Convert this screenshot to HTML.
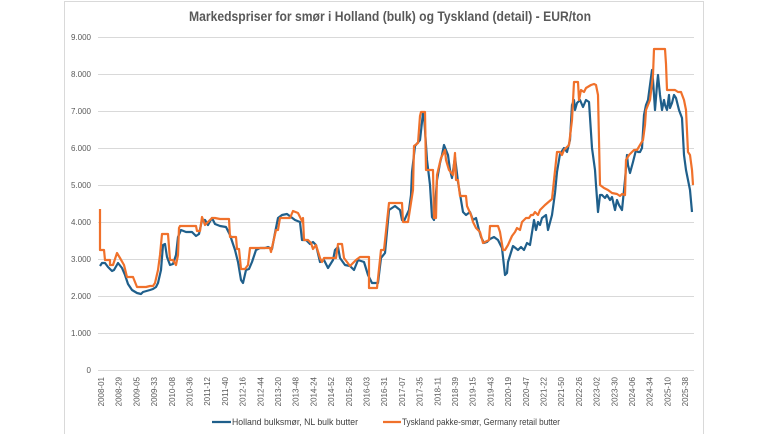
<!DOCTYPE html>
<html><head><meta charset="utf-8"><style>
body{margin:0;background:#fff;}
svg{display:block;font-family:"Liberation Sans",sans-serif;}
</style></head><body>
<svg width="776" height="434" viewBox="0 0 776 434" xmlns="http://www.w3.org/2000/svg">
<rect x="64.5" y="1.5" width="639" height="440" fill="#fff" stroke="#d9d9d9"/>
<text x="390" y="21" text-anchor="middle" font-size="13.5" font-weight="bold" fill="#595959" textLength="402" lengthAdjust="spacingAndGlyphs">Markedspriser for smør i Holland (bulk) og Tyskland (detail) - EUR/ton</text>
<g stroke="#d9d9d9" stroke-width="1">
<line x1="98" x2="694" y1="37.5" y2="37.5"/><line x1="98" x2="694" y1="74.5" y2="74.5"/>
<line x1="98" x2="694" y1="111.5" y2="111.5"/><line x1="98" x2="694" y1="148.5" y2="148.5"/>
<line x1="98" x2="694" y1="185.5" y2="185.5"/><line x1="98" x2="694" y1="222.5" y2="222.5"/>
<line x1="98" x2="694" y1="259.5" y2="259.5"/><line x1="98" x2="694" y1="296.5" y2="296.5"/>
<line x1="98" x2="694" y1="333.5" y2="333.5"/><line x1="98" x2="694" y1="370.5" y2="370.5"/>
</g>
<g font-size="8" fill="#595959" text-anchor="end">
<text x="91" y="40">9.000</text><text x="91" y="77">8.000</text><text x="91" y="114">7.000</text>
<text x="91" y="151">6.000</text><text x="91" y="188">5.000</text><text x="91" y="225">4.000</text>
<text x="91" y="262">3.000</text><text x="91" y="299">2.000</text><text x="91" y="336">1.000</text>
<text x="91" y="373">0</text>
</g>
<g font-size="8" fill="#595959" text-anchor="end">
<text transform="translate(104,377) rotate(-90)">2008-01</text>
<text transform="translate(121.7,377) rotate(-90)">2008-29</text>
<text transform="translate(139.4,377) rotate(-90)">2009-05</text>
<text transform="translate(157.1,377) rotate(-90)">2009-33</text>
<text transform="translate(174.8,377) rotate(-90)">2010-08</text>
<text transform="translate(192.5,377) rotate(-90)">2010-36</text>
<text transform="translate(210.2,377) rotate(-90)">2011-12</text>
<text transform="translate(227.9,377) rotate(-90)">2011-40</text>
<text transform="translate(245.6,377) rotate(-90)">2012-16</text>
<text transform="translate(263.3,377) rotate(-90)">2012-44</text>
<text transform="translate(281,377) rotate(-90)">2013-20</text>
<text transform="translate(298.7,377) rotate(-90)">2013-48</text>
<text transform="translate(316.4,377) rotate(-90)">2014-24</text>
<text transform="translate(334.1,377) rotate(-90)">2014-52</text>
<text transform="translate(351.8,377) rotate(-90)">2015-28</text>
<text transform="translate(369.5,377) rotate(-90)">2016-03</text>
<text transform="translate(387.2,377) rotate(-90)">2016-31</text>
<text transform="translate(404.9,377) rotate(-90)">2017-07</text>
<text transform="translate(422.6,377) rotate(-90)">2017-35</text>
<text transform="translate(440.3,377) rotate(-90)">2018-11</text>
<text transform="translate(458,377) rotate(-90)">2018-39</text>
<text transform="translate(475.7,377) rotate(-90)">2019-15</text>
<text transform="translate(493.4,377) rotate(-90)">2019-43</text>
<text transform="translate(511.1,377) rotate(-90)">2020-19</text>
<text transform="translate(528.8,377) rotate(-90)">2020-47</text>
<text transform="translate(546.5,377) rotate(-90)">2021-22</text>
<text transform="translate(564.2,377) rotate(-90)">2021-50</text>
<text transform="translate(581.9,377) rotate(-90)">2022-26</text>
<text transform="translate(599.6,377) rotate(-90)">2023-02</text>
<text transform="translate(617.3,377) rotate(-90)">2023-30</text>
<text transform="translate(635,377) rotate(-90)">2024-06</text>
<text transform="translate(652.7,377) rotate(-90)">2024-34</text>
<text transform="translate(670.4,377) rotate(-90)">2025-10</text>
<text transform="translate(688.1,377) rotate(-90)">2025-38</text>
</g>
<polyline fill="none" stroke="#1f5f8b" stroke-width="2.2" stroke-linejoin="round" points="100,266 102,263 105,263 108,267 112,271 114,270 118,263 122,268 125,275 128,284 132,290 137,293 141,294 143,292 150,290 153,289 156,287 158,283 161,270 163,245 165,244 167,257 170,265 173,264 176,255 178,237 181,230 186,232 192,232 196,236 199,234 202,220 205,220 208,225 212,218 215,224 220,226 226,227 230,235 235,250 238,262 241,280 243,283 246,270 249,269 252,262 256,250 260,248 265,248 268,247 272,249 275,233 278,218 282,215 287,214 291,217 295,220 300,222 302,240 306,240 310,244 313,242 316,245 320,262 324,260 328,268 333,260 335,250 338,247 340,258 345,265 350,266 354,270 358,260 364,262 368,275 372,283 378,283 381,258 385,253 389,210 395,206 400,210 402,220 404,221 409,210 411,195 412,172 415,146 420,140 423,113 424,115 427,160 430,185 432,217 434,220 437,180 440,163 442,155 444,145 446,150 448,155 450,170 452,178 455,157 458,182 461,200 463,212 466,215 470,212 473,220 476,218 479,230 481,237 484,243 487,242 490,239 494,237 498,240 502,248 505,275 507,273 508,262 513,246 518,250 521,247 524,250 527,243 530,245 534,220 536,230 538,222 540,225 542,218 546,215 548,230 552,215 555,193 557,172 560,154 564,148 567,152 570,140 572,105 574,100 575,110 577,103 580,100 583,107 586,100 589,102 592,148 595,170 596,185 598,212 600,195 602,195 605,198 607,195 610,200 612,197 615,210 617,200 619,205 622,210 623,200 625,180 627,155 628,165 630,173 633,162 636,150 638,152 640,152 642,148 644,115 646,105 648,100 652,70 653,80 655,110 657,85 658,75 660,95 662,110 664,100 665,105 667,110 669,95 670,108 672,103 674,95 676,98 679,110 682,118 684,155 686,170 688,180 690,190 692,212"/>
<polyline fill="none" stroke="#f0712b" stroke-width="2.2" stroke-linejoin="round" points="100,209 100,250 104,250 105,260 110,260 110,265 113,265 117,253 120,258 124,265 127,277 133,277 137,287 146,287 150,286 153,286 155,283 158,270 160,255 162,234 168,234 170,260 173,260 176,265 178,255 179,228 180,226 196,226 197,231 200,231 202,217 205,225 212,218 215,218 220,219 229,219 230,237 236,237 237,249 239,249 241,269 245,269 248,265 250,248 270,248 271,252 276,230 278,230 280,218 290,218 293,211 298,213 303,223 303,218 304,240 308,240 311,243 313,249 316,245 320,258 322,262 324,258 336,258 338,244 342,244 344,258 350,266 356,260 360,257 369,257 369,288 377,288 381,250 384,250 389,203 402,203 403,222 408,222 413,190 414,146 418,143 420,116 421,112 425,112 426,170 433,170 434,218 436,218 437,175 441,158 445,150 446,160 449,170 453,175 455,153 456,180 458,180 460,196 466,196 467,206 471,215 473,222 476,228 480,232 483,243 489,240 490,226 498,226 500,232 503,250 505,250 508,245 512,236 515,232 517,228 520,230 522,222 526,218 529,218 531,215 533,215 535,212 538,215 540,210 545,205 552,199 557,152 560,152 562,155 564,150 569,145 572,120 574,82 578,82 579,100 580,95 581,90 584,92 586,88 591,85 594,84 596,85 598,95 600,185 604,188 608,190 612,193 617,194 620,196 622,194 625,195 626,160 629,155 634,150 637,150 640,145 643,140 645,125 646,110 650,100 653,75 654,49 665,49 666,64 667,90 670,90 675,90 678,92 681,92 684,100 686,110 688,152 690,155 692,170 693,185"/>
<g font-size="9" fill="#404040">
<line x1="212" x2="231" y1="422" y2="422" stroke="#1f5f8b" stroke-width="2.2"/>
<text x="232" y="425" textLength="126" lengthAdjust="spacingAndGlyphs">Holland bulksmør, NL bulk butter</text>
<line x1="383" x2="401" y1="422" y2="422" stroke="#f0712b" stroke-width="2.2"/>
<text x="402" y="425" textLength="158" lengthAdjust="spacingAndGlyphs">Tyskland pakke-smør, Germany retail butter</text>
</g>
</svg>
</body></html>
